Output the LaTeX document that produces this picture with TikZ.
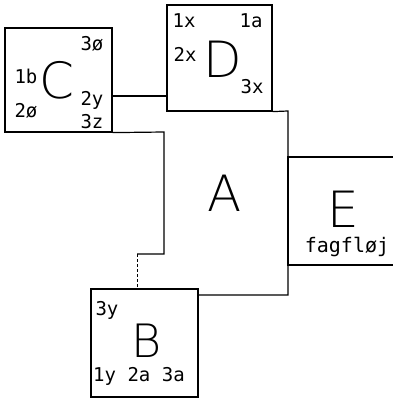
\documentclass[tikz,border=0pt]{standalone}
\usepackage{fontspec}
\setmonofont{DejaVu Sans Mono}
\newfontfamily\letterfont{DejaVu Sans ExtraLight}
\begin{document}
\begin{tikzpicture}[
		x = 1pt, y = -1pt,
		room/.style = { draw, line width = 1.2pt, inner sep = 0pt },
		wall/.style = { line width = 1.2pt },
		letter/.style = { inner sep = 0pt, font = \letterfont\fontsize{50}{50}\selectfont },
		lbl/.style = { inner sep = 0pt, anchor = base, font = \ttfamily\fontsize{19}{19}\selectfont }
	]
	\clip (0,0) rectangle (393,399);
	% the rooms
	\node [room, minimum width = 107pt, minimum height = 104pt] (C) at (58.5,80) {};
	\node [room, minimum width = 105pt, minimum height = 106pt] (D) at (219.5,58) {};
	\node [room, minimum width = 107pt, minimum height = 108pt] (B) at (144.5,343) {};
	\node [room, minimum width = 110pt, minimum height = 108pt] (E) at (343,211) {};
	% outline of A
	\coordinate (a1) at (164,132);
	\coordinate (a2) at (164,254);
	\coordinate (a3) at (137,254);
	\coordinate (a4) at (288,111);
	\coordinate (a5) at (288,295);
	\draw [wall] (C.south east) -- (a1) -- (a2) -- (a3);
	\draw [densely dashed, line width = 0.6pt] (a3) -- (a3 |- B.north);
	\draw [wall] (D.south east) -- (a4) -- (a5) -- (B.east |- a5);
	\draw [wall] ([yshift = -16pt]C.east) -- ([yshift = -16pt]C.east -| D.west);
	% big letters
	\node [letter] (lC) at (57,80) {C};
	\node [letter] (lD) at (223,59) {D};
	\node [letter] (lA) at (225,193) {A};
	\node [letter, font = \letterfont\fontsize{46}{46}\selectfont] (lB) at (147,341) {B};
	\node [letter] (lE) at (343,209) {E};
	% labels
	\node [lbl] (c3o) at (92,50) {3ø};
	\node [lbl] (c1b) at (26,83) {1b};
	\node [lbl] (c2y) at (92,105) {2y};
	\node [lbl] (c2o) at (26,117) {2ø};
	\node [lbl] (c3z) at (92,128) {3z};
	\node [lbl] (d1x) at (184,27) {1x};
	\node [lbl] (d1a) at (251,27) {1a};
	\node [lbl] (d2x) at (185,61) {2x};
	\node [lbl] (d3x) at (252,93) {3x};
	\node [lbl] (b3y) at (107,315) {3y};
	\node [lbl] (b123) at (139,381) {1y 2a 3a};
	\node [lbl, font = \ttfamily\fontsize{20}{20}\selectfont] (efag) at (347,252) {fagfløj};
\end{tikzpicture}
\end{document}
